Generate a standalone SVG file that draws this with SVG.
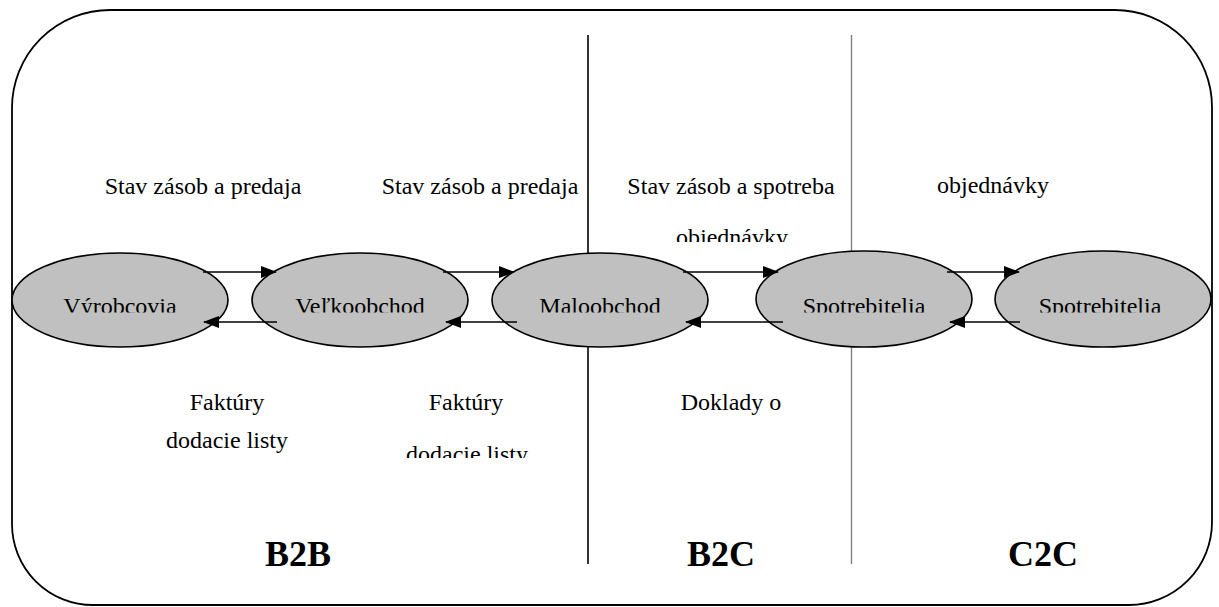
<svg xmlns="http://www.w3.org/2000/svg" width="1219" height="607" viewBox="0 0 1219 607">
<style>
.t{font-family:"Liberation Serif","Times New Roman",serif;font-size:24px;fill:#000;text-anchor:middle}
.b{font-family:"Liberation Serif","Times New Roman",serif;font-size:36px;font-weight:bold;fill:#000;text-anchor:middle}
.node{fill:#c0c0c0;stroke:#000;stroke-width:1.6}
.arr{stroke:#000;stroke-width:1.6;fill:none;marker-end:url(#ah)}
</style>
<defs>
<marker id="ah" markerWidth="16" markerHeight="12" refX="15" refY="6" orient="auto" markerUnits="userSpaceOnUse">
<path d="M0,0 L16,6 L0,12 Z" fill="#000"/>
</marker>
<clipPath id="cn" clipPathUnits="userSpaceOnUse"><rect x="0" y="0" width="1219" height="312.5"/></clipPath>
<clipPath id="co" clipPathUnits="userSpaceOnUse"><rect x="0" y="0" width="1219" height="242"/></clipPath>
<clipPath id="cd" clipPathUnits="userSpaceOnUse"><rect x="0" y="0" width="1219" height="458"/></clipPath>
</defs>
<rect width="1219" height="607" fill="#fff"/>
<g id="frame">
<path d="M110,10 H1115 A97,97 0 0 1 1212,107 V522 A83,83 0 0 1 1129,605 H93 A81,81 0 0 1 12,524 V108 A98,98 0 0 1 110,10 Z" fill="none" stroke="#000" stroke-width="1.8"/>
<line x1="588" y1="35" x2="588" y2="564" stroke="#000" stroke-width="1.6"/>
<line x1="851.5" y1="35" x2="851.5" y2="564" stroke="#808080" stroke-width="1.4"/>
</g>
<g id="labels">
<text class="t" x="203" y="194">Stav zásob a predaja</text>
<text class="t" x="480" y="194">Stav zásob a predaja</text>
<text class="t" x="731" y="194">Stav zásob a spotreba</text>
<text class="t" x="732" y="244.5" clip-path="url(#co)">objednávky</text>
<text class="t" x="993" y="193">objednávky</text>
<text class="t" x="227" y="410">Faktúry</text>
<text class="t" x="227" y="448">dodacie listy</text>
<text class="t" x="466" y="410">Faktúry</text>
<text class="t" x="467" y="461.5" clip-path="url(#cd)">dodacie listy</text>
<text class="t" x="731" y="410">Doklady o</text>
<text class="b" x="298" y="566">B2B</text>
<text class="b" x="721" y="566">B2C</text>
<text class="b" x="1043" y="566">C2C</text>
</g>
<g id="n1"><ellipse class="node" cx="120" cy="300" rx="108" ry="47"/><text class="t" x="120" y="314" clip-path="url(#cn)">Výrobcovia</text></g>
<g id="n2"><ellipse class="node" cx="360" cy="300" rx="108" ry="47"/><text class="t" x="360" y="314" clip-path="url(#cn)">Veľkoobchod</text></g>
<g id="n3"><ellipse class="node" cx="600" cy="300" rx="108" ry="47"/><text class="t" x="600" y="314" clip-path="url(#cn)">Maloobchod</text></g>
<g id="n4"><ellipse class="node" cx="864" cy="299" rx="108" ry="48"/><text class="t" x="864" y="314" clip-path="url(#cn)">Spotrebitelia</text></g>
<g id="n5"><ellipse class="node" cx="1103" cy="299" rx="108" ry="48"/><text class="t" x="1100" y="314" clip-path="url(#cn)">Spotrebitelia</text></g>
<g id="connectors">
<line class="arr" x1="203" y1="272" x2="276" y2="272"/>
<line class="arr" x1="277" y1="322" x2="204" y2="322"/>
<line class="arr" x1="443" y1="272" x2="514" y2="272"/>
<line class="arr" x1="517" y1="322" x2="446" y2="322"/>
<line class="arr" x1="683" y1="272" x2="778" y2="272"/>
<line class="arr" x1="783" y1="322" x2="686" y2="322"/>
<line class="arr" x1="947" y1="272" x2="1019" y2="272"/>
<line class="arr" x1="1020" y1="322" x2="950" y2="322"/>
</g>
</svg>
